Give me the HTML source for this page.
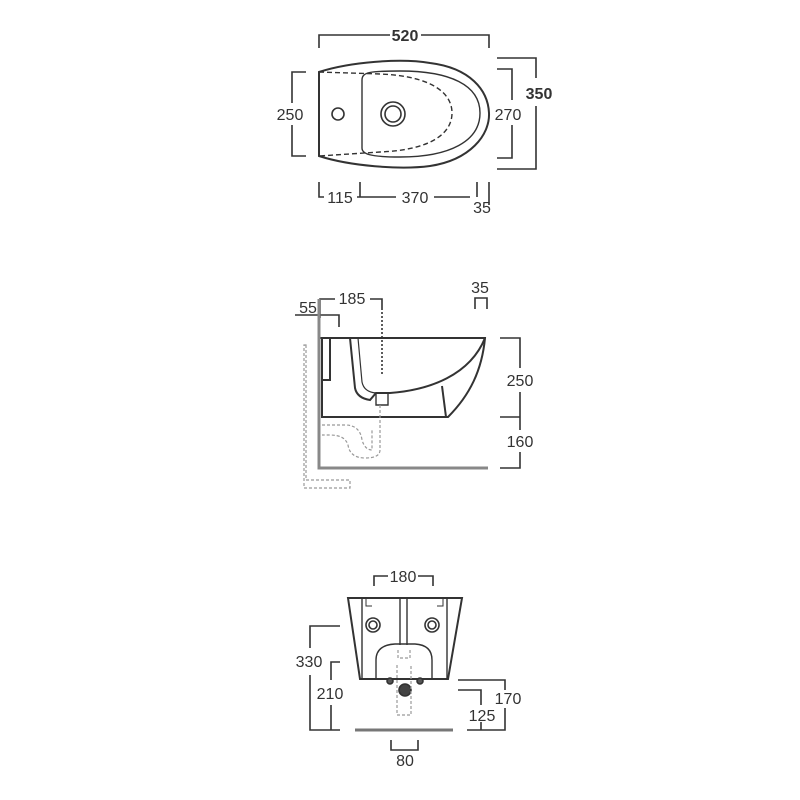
<!DOCTYPE html>
<html><head><style>html,body{margin:0;background:#fff}svg{display:block}text{font-family:"Liberation Sans",Arial,sans-serif;font-size:16px;fill:#333}</style></head>
<body>
<svg width="800" height="800" viewBox="0 0 800 800" xmlns="http://www.w3.org/2000/svg">
<g fill="none" stroke="#333" stroke-width="1.6">
<!-- TOP VIEW -->
<path d="M319 48V35H390M421 35H489V48"/>
<path d="M306 72H292V103M292 125V156H306"/>
<path d="M497 69H512V100M512 125V158H497"/>
<path d="M497 58H536V78M536 106V169H497"/>
<path d="M319 182V197H324M357 197H396M434 197H470M360 182V197M477 182V197M489 182V205"/>
<path d="M319 72V156 C350 166 400 170 430 166 C470 160 490 135 489 113 C488 90 470 68 430 63 C400 58 350 62 319 72Z" stroke-width="2"/>
<path d="M362 80 C362 72 370 71 400 71 C450 71 480 85 480 113 C480 141 450 157 400 157 C370 157 362 154 362 148 Z" stroke-width="1.4"/>
<path d="M319 72 L380 74 C430 76 452 92 452 113 C452 134 430 150 380 152 L319 156" stroke-dasharray="5,3" stroke-width="1.4"/>
<circle cx="338" cy="114" r="6"/>
<circle cx="393" cy="114" r="12"/><circle cx="393" cy="114" r="8"/>
<!-- SIDE VIEW -->
<path d="M320 318V299H335M370 299H382V310"/>
<path d="M382 312V375" stroke-dasharray="2,2"/>
<path d="M295 315H339V327"/>
<path d="M475 309V298H487V309"/>
<path d="M500 338H520V368M520 392V430M520 452V468H500M500 417H520"/>
<path d="M320 338H485 C482 370 470 395 448 417 H322 V338" stroke-width="2"/>
<path d="M322 338H330V380H322" stroke-width="2"/>
<path d="M350 338 L355 388 Q357 398 370 400 L376 393 H390 C430 390 470 375 485 338" stroke-width="2"/>
<path d="M358 338 L362 382 Q364 392 376 393" stroke-width="1.2"/>
<path d="M442 386 L446 417" stroke-width="2"/>
<path d="M376 393V405H388V393" stroke-width="1.4"/>
<path d="M319 299V468H488" stroke="#888" stroke-width="3"/>
<g stroke="#999" stroke-width="1.2" stroke-dasharray="3,2">
<path d="M306 345V480H350V488H304V345Z"/>
<path d="M322 425H345 Q360 425 362 440 Q365 450 372 450 V430 M380 405V450 Q380 458 365 458 Q350 458 348 445 Q345 435 330 435 H322"/>
</g>
<!-- FRONT VIEW -->
<path d="M374 586V576H388M418 576H433V586"/>
<path d="M340 626H310V648M310 675V730H340M340 662H331V680M331 705V730"/>
<path d="M458 680H505V690M505 708V730H467M458 690H481V705M481 722V730"/>
<path d="M391 740V750H418V740"/>
<path d="M348 598H462L448 679H360Z" stroke-width="2"/>
<path d="M362 598V679M447 598V679M400 598V645M407 598V645M376 679V660Q376 645 395 644H415Q432 645 432 660V679" stroke-width="1.4"/>
<path d="M366 598V606H372M443 598V606H437" stroke-width="1"/>
<circle cx="373" cy="625" r="7"/><circle cx="373" cy="625" r="4"/>
<circle cx="432" cy="625" r="7"/><circle cx="432" cy="625" r="4"/>
<circle cx="390" cy="681" r="3" fill="#555"/><circle cx="420" cy="681" r="3" fill="#555"/>
<circle cx="405" cy="690" r="6" fill="#444"/>
<path d="M398 650V658H410V650M397 665V715H411V665" stroke="#999" stroke-dasharray="3,2" stroke-width="1.2"/>
<path d="M355 730H453" stroke="#777" stroke-width="3"/>
</g>
<text x="405" y="41" text-anchor="middle" font-weight="bold">520</text>
<text x="290" y="120" text-anchor="middle">250</text>
<text x="508" y="120" text-anchor="middle">270</text>
<text x="539" y="99" text-anchor="middle" font-weight="bold">350</text>
<text x="340" y="203" text-anchor="middle">115</text>
<text x="415" y="203" text-anchor="middle">370</text>
<text x="482" y="213" text-anchor="middle">35</text>
<text x="352" y="304" text-anchor="middle">185</text>
<text x="308" y="313" text-anchor="middle">55</text>
<text x="480" y="293" text-anchor="middle">35</text>
<text x="520" y="386" text-anchor="middle">250</text>
<text x="520" y="447" text-anchor="middle">160</text>
<text x="403" y="582" text-anchor="middle">180</text>
<text x="309" y="667" text-anchor="middle">330</text>
<text x="330" y="699" text-anchor="middle">210</text>
<text x="508" y="704" text-anchor="middle">170</text>
<text x="482" y="721" text-anchor="middle">125</text>
<text x="405" y="766" text-anchor="middle">80</text>
</svg>
</body></html>
